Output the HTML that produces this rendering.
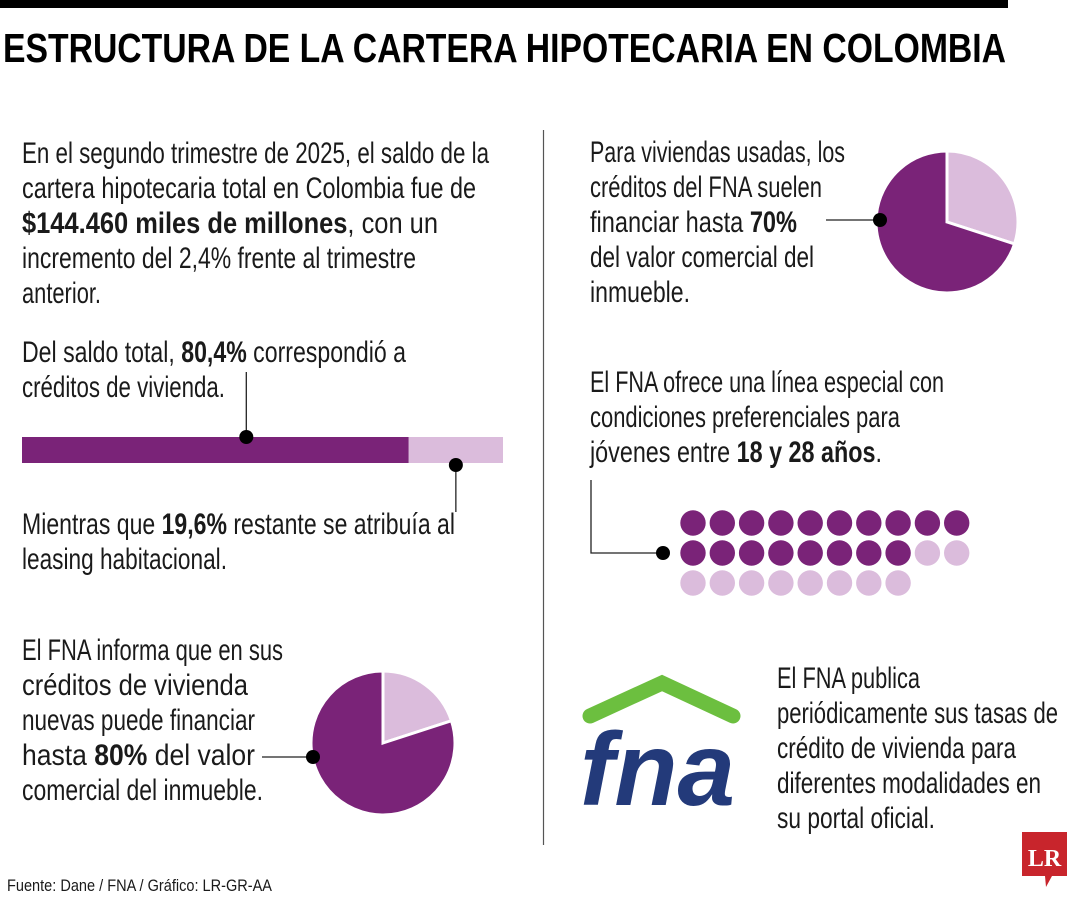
<!DOCTYPE html>
<html><head><meta charset="utf-8"><style>
html,body{margin:0;padding:0;background:#fff;}
svg{display:block;}
text{font-family:"Liberation Sans Narrow","Liberation Sans",sans-serif;fill:#1a1a1a;}
.t{font-size:30px;}
.b{font-weight:bold;}
</style></head><body>
<svg id="chart" width="1080" height="900" viewBox="0 0 1080 900">
<rect x="0" y="0" width="1008" height="8" fill="#000"/>
<text x="3" y="62" font-size="41" font-weight="bold" textLength="1003" lengthAdjust="spacingAndGlyphs" style="fill:#000">ESTRUCTURA DE LA CARTERA HIPOTECARIA EN COLOMBIA</text>
<line x1="543.5" y1="130" x2="543.5" y2="845" stroke="#555" stroke-width="1.2"/>

<g>
<text class="t" x="22" y="163" textLength="467" lengthAdjust="spacingAndGlyphs">En el segundo trimestre de 2025, el saldo de la</text>
<text class="t" x="22" y="198" textLength="454" lengthAdjust="spacingAndGlyphs">cartera hipotecaria total en Colombia fue de</text>
<text class="t" x="22" y="233" textLength="416" lengthAdjust="spacingAndGlyphs"><tspan class="b">$144.460 miles de millones</tspan>, con un</text>
<text class="t" x="22" y="268" textLength="394" lengthAdjust="spacingAndGlyphs">incremento del 2,4% frente al trimestre</text>
<text class="t" x="22" y="303" textLength="79" lengthAdjust="spacingAndGlyphs">anterior.</text>
</g>
<g>
<text class="t" x="22" y="362" textLength="384" lengthAdjust="spacingAndGlyphs">Del saldo total, <tspan class="b">80,4%</tspan> correspondió a</text>
<text class="t" x="22" y="397" textLength="203" lengthAdjust="spacingAndGlyphs">créditos de vivienda.</text>
</g>
<g>
<text class="t" x="22" y="534" textLength="433" lengthAdjust="spacingAndGlyphs">Mientras que <tspan class="b">19,6%</tspan> restante se atribuía al</text>
<text class="t" x="22" y="569" textLength="205" lengthAdjust="spacingAndGlyphs">leasing habitacional.</text>
</g>
<g>
<text class="t" x="22" y="660" textLength="261" lengthAdjust="spacingAndGlyphs">El FNA informa que en sus</text>
<text class="t" x="22" y="695" textLength="226" lengthAdjust="spacingAndGlyphs">créditos de vivienda</text>
<text class="t" x="22" y="730" textLength="233" lengthAdjust="spacingAndGlyphs">nuevas puede financiar</text>
<text class="t" x="22" y="765" textLength="233" lengthAdjust="spacingAndGlyphs">hasta <tspan class="b">80%</tspan> del valor</text>
<text class="t" x="22" y="800" textLength="241" lengthAdjust="spacingAndGlyphs">comercial del inmueble.</text>
</g>
<g>
<text class="t" x="590" y="162" textLength="255" lengthAdjust="spacingAndGlyphs">Para viviendas usadas, los</text>
<text class="t" x="590" y="197" textLength="232" lengthAdjust="spacingAndGlyphs">créditos del FNA suelen</text>
<text class="t" x="590" y="232" textLength="207" lengthAdjust="spacingAndGlyphs">financiar hasta <tspan class="b">70%</tspan></text>
<text class="t" x="590" y="267" textLength="224" lengthAdjust="spacingAndGlyphs">del valor comercial del</text>
<text class="t" x="590" y="302" textLength="100" lengthAdjust="spacingAndGlyphs">inmueble.</text>
</g>
<g>
<text class="t" x="590" y="392" textLength="354" lengthAdjust="spacingAndGlyphs">El FNA ofrece una línea especial con</text>
<text class="t" x="590" y="427" textLength="310" lengthAdjust="spacingAndGlyphs">condiciones preferenciales para</text>
<text class="t" x="590" y="462" textLength="292" lengthAdjust="spacingAndGlyphs">jóvenes entre <tspan class="b">18 y 28 años</tspan>.</text>
</g>
<g>
<text class="t" x="777" y="688" textLength="143" lengthAdjust="spacingAndGlyphs">El FNA publica</text>
<text class="t" x="777" y="723" textLength="281" lengthAdjust="spacingAndGlyphs">periódicamente sus tasas de</text>
<text class="t" x="777" y="758" textLength="239" lengthAdjust="spacingAndGlyphs">crédito de vivienda para</text>
<text class="t" x="777" y="793" textLength="264" lengthAdjust="spacingAndGlyphs">diferentes modalidades en</text>
<text class="t" x="777" y="828" textLength="158" lengthAdjust="spacingAndGlyphs">su portal oficial.</text>
</g>
<text x="7" y="891" font-size="17" textLength="265" lengthAdjust="spacingAndGlyphs">Fuente: Dane / FNA / Gráfico: LR-GR-AA</text>

<g id="marks"></g>

<g>
<polyline points="590,716 662,683 733,716" fill="none" stroke="#6cbf3f" stroke-width="15" stroke-linecap="round" stroke-linejoin="miter"/>
<text x="580" y="805" textLength="155" lengthAdjust="spacingAndGlyphs" style="fill:#233a7a;font-family:'Liberation Sans',sans-serif;font-size:104px;font-weight:bold;font-style:italic">fna</text>
</g>
<g>
<path d="M1022,832 H1067 V876 H1052 L1046,887 L1045,876 H1022 Z" fill="#c8252c"/>
<text x="1044.5" y="866" text-anchor="middle" style="fill:#fff;font-family:'Liberation Serif',serif;font-weight:bold;font-size:24px">LR</text>
</g>
</svg>
<script>
const barShares = [80.4, 19.6];
const pieNewShares = [80, 20];
const pieUsedShares = [70, 30];
const dotsTotal = 28;
const dotsFilled = 18;

const NS = 'http://www.w3.org/2000/svg';
const DARK = '#7a2378', LIGHT = '#dbbcdc';
const g = document.getElementById('marks');
function mk(tag, attrs){const e=document.createElementNS(NS,tag);for(const k in attrs)e.setAttribute(k,attrs[k]);g.appendChild(e);return e;}

// bar
const bx0=22, bw=481, by=437, bh=26;
const bsum = barShares.reduce((a,b)=>a+b,0);
const xScale = v => bx0 + v / bsum * bw;
let acc=0;
barShares.forEach((v,i)=>{
  const r=mk('rect',{x:xScale(acc),y:by,width:xScale(acc+v)-xScale(acc),height:bh,fill:i===0?DARK:LIGHT});
  
  
  acc+=v;
});
const mid1 = xScale(barShares[0]*0.58);
let l=mk('line',{x1:mid1,y1:372,x2:mid1,y2:437,stroke:'#222','stroke-width':1.3});


let d=mk('circle',{cx:mid1,cy:437,r:7,fill:'#000'});


const mid2 = xScale(barShares[0]+barShares[1]/2);
l=mk('line',{x1:mid2,y1:465,x2:mid2,y2:512,stroke:'#222','stroke-width':1.3});


d=mk('circle',{cx:mid2,cy:465,r:7,fill:'#000'});



// pies
function pie(cx,cy,r,shares,name){
  const tot=shares.reduce((a,b)=>a+b,0);
  const order=[{v:shares[1],c:LIGHT,n:'light'},{v:shares[0],c:DARK,n:'dark'}];
  let a0=0;
  order.forEach(s=>{
    const a1=a0+s.v/tot*2*Math.PI;
    const p=(a)=>[cx+r*Math.sin(a),cy-r*Math.cos(a)];
    const [x0,y0]=p(a0),[x1,y1]=p(a1);
    const large=(a1-a0)>Math.PI?1:0;
    const path=mk('path',{d:`M${cx},${cy} L${x0},${y0} A${r},${r} 0 ${large} 1 ${x1},${y1} Z`,fill:s.c,stroke:'#fff','stroke-width':3});
    
    
    a0=a1;
  });
}
pie(947,222,71,pieUsedShares,'pie-used');
l=mk('line',{x1:826,y1:220,x2:880,y2:220,stroke:'#222','stroke-width':1.3});


d=mk('circle',{cx:880,cy:220,r:7,fill:'#000'});



pie(383,743,72,pieNewShares,'pie-new');
l=mk('line',{x1:262,y1:757,x2:313,y2:757,stroke:'#222','stroke-width':1.3});


d=mk('circle',{cx:313,cy:757,r:7,fill:'#000'});



// dots
for(let i=0;i<dotsTotal;i++){
  const col=i%10,row=Math.floor(i/10);
  const c=mk('circle',{cx:693+col*29.3,cy:523+row*30,r:12.7,fill:i<dotsFilled?DARK:LIGHT});
  
  
}
l=mk('polyline',{points:'591,480 591,553 663,553',fill:'none',stroke:'#222','stroke-width':1.3});


d=mk('circle',{cx:663,cy:553,r:7,fill:'#000'});


</script>
</body></html>
